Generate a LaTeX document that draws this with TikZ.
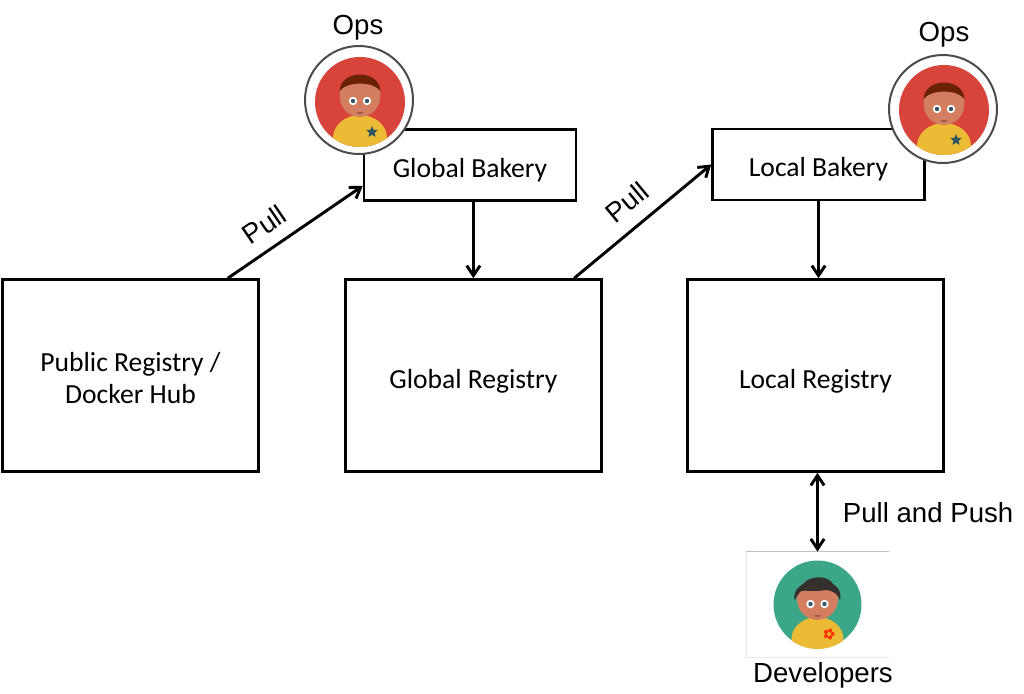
\documentclass[tikz,border=0pt]{standalone}
\usepackage{fontspec}
\setmainfont{Carlito}
\newfontfamily\labelfont{Liberation Sans}
\usetikzlibrary{arrows.meta,shapes.geometric}
\definecolor{opsred}{HTML}{D8433A}
\definecolor{devgreen}{HTML}{3BA688}
\definecolor{shirt}{HTML}{EBBB35}
\definecolor{skin}{HTML}{D37E5E}
\definecolor{opshair}{HTML}{6A2204}
\definecolor{devhair}{HTML}{33302E}
\definecolor{badge}{HTML}{2F5560}
\definecolor{pupil}{HTML}{3A5568}
\tikzset{
  regbox/.style={draw=black, line width=1.9pt, fill=white, minimum width=192pt, minimum height=144pt, align=center, font=\fontsize{20.7}{24}\selectfont, execute at begin node={\rule{0pt}{22.5pt}}},
  bakebox/.style={draw=black, line width=1.9pt, fill=white, minimum width=159pt, minimum height=53.5pt, align=center, font=\fontsize{20.7}{24}\selectfont, execute at begin node={\rule{0pt}{21.5pt}}},
  boxtext/.style={align=center, font=\fontsize{20.7}{24}\selectfont, inner sep=0pt},
  flow/.style={line width=2.2pt, -{Straight Barb[length=7.5pt,width=10pt,line width=2.2pt]}},
  caption/.style={font=\labelfont\fontsize{20.7}{24}\selectfont, inner sep=0pt},
  pics/face/.style={code={
    \fill[skin] (0,-6) ellipse (20.5 and 21);
    \fill[white] (-7,-1) circle (4.2) (7,-1) circle (4.2);
    \fill[pupil] (-7,-1) circle (2.2) (7,-1) circle (2.2);
    \fill[skin!75!black] (-4,10) .. controls (-2,13) and (2,13) .. (4,10) -- cycle;
  }},
  pics/ops/.style={code={
    \fill[opsred] (0,0) circle (45);
    \begin{scope}
      \clip (0,0) circle (45);
      \fill[shirt] (0,36) ellipse (27 and 23);
    \end{scope}
    \pic {face};
    \fill[opshair] (-20.5,-11) .. controls (-19,-33) and (19,-33) .. (20.5,-11) .. controls (12,-21) and (-12,-21) .. cycle;
    \node[star, star points=5, star point ratio=2.2, fill=badge, minimum size=9pt, inner sep=0pt] at (12,30) {};
  }},
}
\begin{document}
\begin{tikzpicture}[x=0.75pt, y=-0.75pt]
  \useasboundingbox (0,0) rectangle (1024,693);
  \node[regbox, execute at begin node={}] (pubreg) at (130.5,375.5) {};
  \node[boxtext] (pubtext) at (130.5,378.5) {Public Registry /\\Docker Hub};
  \node[regbox] (globreg) at (473.4,375.5) {Global Registry};
  \node[regbox] (locreg) at (815.5,375.5) {Local Registry};
  \node[bakebox] (globbake) at (470,165) {Global Bakery};
  \node[bakebox] (locbake) at (818.5,164.5) {Local Bakery};
  % developers picture, a white card with a thin edge on top
  \node[minimum width=107pt, minimum height=79pt, inner sep=0pt, fill=white] (devcard) at (817.5,604.5) {};
  \draw[black!25, line width=0.5pt] (devcard.north west) -- (devcard.north east);
  \draw[black!8, line width=0.5pt] (devcard.north west) -- (devcard.south west) -- (devcard.south east);
  \fill[devgreen] (devcard.center) circle (44);
  \begin{scope}[shift={(817.5,605)}]
    \clip (0,0) circle (44);
    \fill[shirt] (0,34) ellipse (26 and 22);
  \end{scope}
  \pic at (817.5,605) {face};
  \fill[devhair] (794.5,600) .. controls (793,590) and (800,586) .. (803,584) .. controls (810,575) and (828,575) .. (833,584) .. controls (838,587) and (842,592) .. (840,600) .. controls (838,594) and (832,590) .. (826,590) .. controls (816,592) and (806,590) .. (801,591) .. controls (798,594) and (797,597) .. cycle;
  \foreach \a in {0,72,...,288}
    \fill[red!60!orange] (829,634) ++(\a:3.6) circle (2.1);
  \fill[shirt] (829,634) circle (1.5);
  % connectors
  \draw[flow] (pubreg.45.9) -- node[pos=.37, sloped, above=9pt, caption] {Pull} (globbake.191.5);
  \draw[flow] (globreg.44.6) -- node[pos=.50, sloped, above=10pt, caption] {Pull} (locbake.180);
  \draw[flow] (globbake.south -| globreg.north) -- (globreg.north);
  \draw[flow] (locbake.south) -- (locbake.south |- locreg.north);
  \draw[flow, {Straight Barb[length=7.5pt,width=10pt,line width=2.2pt]}-{Straight Barb[length=7.5pt,width=10pt,line width=2.2pt]}] (devcard.north |- locreg.south) -- node[right=18pt, caption] {Pull and Push} (devcard.north);
  % ops pictures sit over the bakery corners
  \node[circle, draw=black!70, line width=1.5pt, fill=white, minimum size=81pt, inner sep=0pt] (opsleft) at (359,100) {};
  \node[circle, draw=black!70, line width=1.5pt, fill=white, minimum size=81pt, inner sep=0pt] (opsright) at (943,109) {};
  \pic at (360,102) {ops};
  \pic at (944,110) {ops};
  \node[caption] (opsleftlabel) at (358,28) {Ops};
  \node[caption] (opsrightlabel) at (944,35) {Ops};
  \node[caption] (devlabel) at (823,675) {Developers};
\end{tikzpicture}
\end{document}
